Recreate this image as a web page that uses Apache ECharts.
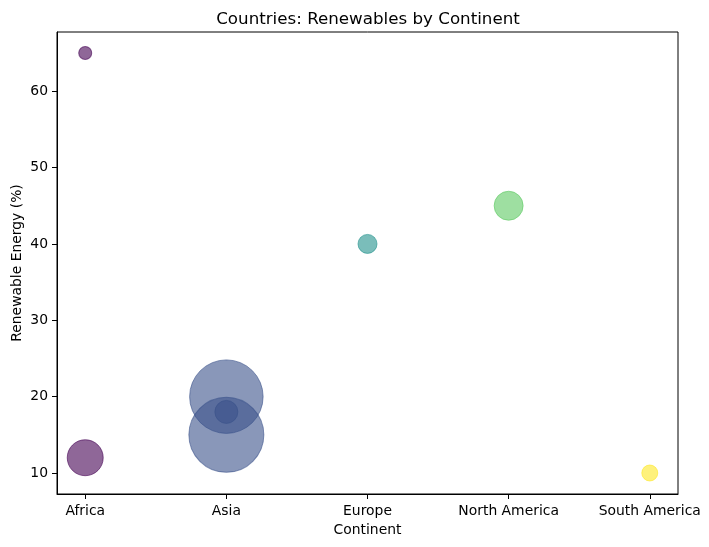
<!DOCTYPE html>
<html>
<head>
<meta charset="utf-8" />
<title>Countries: Renewables by Continent</title>
<script src="https://cdn.jsdelivr.net/npm/echarts@6/dist/echarts.min.js"></script>
<style>
  html, body { margin: 0; padding: 0; background: #fff; }
  #chart { width: 709px; height: 547px; }
</style>
</head>
<body>
<div id="chart"></div>
<script>
// data
var continents = ['Africa', 'Asia', 'Europe', 'North America', 'South America'];
var pointContinent = [0, 0, 1, 1, 1, 2, 3, 4];
var renewables = [65, 12, 20, 15, 18, 40, 45, 10];
var markerArea = [69, 527, 2200, 2290, 215, 147, 342, 104]; // matplotlib s (pt^2)
var yTicks = [10, 20, 30, 40, 50, 60];

var viridis = ['#440154', '#3b528b', '#21918c', '#5ec962', '#fde725'];

// pt^2 area -> pixel diameter at 100 dpi
function diameter(s) {
    return 2 * Math.sqrt(s / Math.PI) * 100 / 72;
}

var points = [];
for (var i = 0; i < renewables.length; i++) {
    points.push({
        value: [pointContinent[i], renewables[i], markerArea[i]],
        itemStyle: {
            color: viridis[pointContinent[i]],
            borderColor: viridis[pointContinent[i]]
        }
    });
}

var font = 'DejaVu Sans';
var chart = echarts.init(document.getElementById('chart'));
chart.setOption({
    animation: false,
    backgroundColor: '#fff',
    title: {
        text: 'Countries: Renewables by Continent',
        left: 363,
        textAlign: 'center',
        top: 6,
        textStyle: { fontFamily: font, fontSize: 16.7, fontWeight: 'normal', color: '#000' }
    },
    grid: {
        left: 57, right: 31, top: 32, bottom: 53,
        outerBoundsMode: 'none',
        containLabel: false,
        show: true, borderColor: '#000', borderWidth: 1, backgroundColor: 'transparent'
    },
    xAxis: {
        type: 'value',
        min: -0.2, max: 4.2,
        name: 'Continent',
        nameLocation: 'middle',
        nameGap: 29,
        nameMoveOverlap: false,
        nameTextStyle: { fontFamily: font, fontSize: 13.9, color: '#000' },
        splitLine: { show: false },
        axisLine: { show: true, onZero: false, lineStyle: { color: '#000', width: 1 } },
        axisTick: { show: true, length: 5, lineStyle: { color: '#000' }, customValues: [0, 1, 2, 3, 4] },
        axisLabel: {
            customValues: [0, 1, 2, 3, 4],
            margin: 10,
            fontFamily: font, fontSize: 13.9, color: '#000',
            formatter: function (v) { return continents[Math.round(v)]; }
        }
    },
    yAxis: {
        type: 'value',
        min: 7.25, max: 67.75,
        name: 'Renewable Energy (%)',
        nameLocation: 'middle',
        nameGap: 33,
        nameMoveOverlap: false,
        nameTextStyle: { fontFamily: font, fontSize: 13.9, color: '#000' },
        splitLine: { show: false },
        axisLine: { show: true, onZero: false, lineStyle: { color: '#000', width: 1 } },
        axisTick: { show: true, length: 5, lineStyle: { color: '#000' }, customValues: yTicks },
        axisLabel: {
            customValues: yTicks,
            margin: 9,
            fontFamily: font, fontSize: 13.9, color: '#000'
        }
    },
    series: [{
        type: 'scatter',
        data: points,
        symbolSize: function (val) { return diameter(val[2]); },
        itemStyle: { opacity: 0.6, borderWidth: 1 }
    }]
});
</script>
</body>
</html>
